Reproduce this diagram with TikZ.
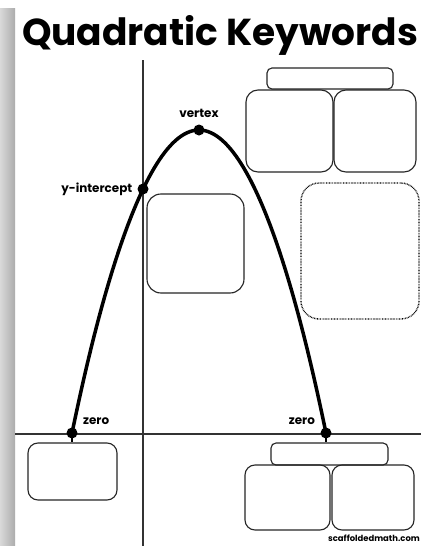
\documentclass[tikz,border=0pt]{standalone}
\usepackage{fontspec}
\setmainfont{Poppins}
\usepackage{tikz}
\usetikzlibrary{positioning}
\tikzset{
 dot/.style={circle,fill=black,inner sep=0pt,minimum size=5.5mm},
 kbox/.style={draw=black!85,line width=1.6pt,rounded corners=6mm,inner sep=0pt},
 kbar/.style={draw=black!85,line width=1.6pt,rounded corners=2.5mm,inner sep=0pt},
 lbl/.style={inner sep=0pt,font=\fontsize{17}{20}\selectfont\bfseries},
}
\begin{document}
\begin{tikzpicture}[x=.5mm,y=-.5mm]
\useasboundingbox (0,0) rectangle (421,546);
\fill[white] (0,0) rectangle (421,546);
\shade[left color=gray!30,right color=gray!65] (0,8) rectangle (15,546);
% axes
\draw[line width=1.5pt,black!80] (143,60) -- (143,546);
\draw[line width=1.5pt,black!80] (15,434) -- (421,434);
\node[anchor=base west,inner sep=0pt] (title) at (22,45) {\resizebox{198mm}{!}{\bfseries Quadratic Keywords}};
% points on the curve
\foreach \n/\x/\y in {vx/199/130,yint/143/189,zl/72/433,zr/326/433}
 \node[dot] (\n) at (\x,\y) {};
\draw[line width=5pt] (zl.center) parabola bend (vx.center) (zr.center);
\node[lbl,above=3.5mm of vx] (vxl) {vertex};
\node[lbl,left=2.5mm of yint] (yintl) {y-intercept};
\node[lbl,above right=2mm and 3.5mm of zl] (zll) {zero};
\node[lbl,above left=2mm and 3.5mm of zr] (zrl) {zero};
% boxes
\node[kbar,minimum width=63mm,minimum height=10.5mm] (tbar) at (330,78.5) {};
\node[kbox,minimum width=43.5mm,minimum height=41mm] (tl) at (289.5,131) {};
\node[kbox,minimum width=41mm,minimum height=41mm] (tr) at (375,131) {};
\node[kbox,rounded corners=7mm,minimum width=48.5mm,minimum height=49.5mm] (mid) at (195.5,243.5) {};
\node[kbox,draw=black,line width=2pt,dash pattern=on 1pt off 1.2pt,rounded corners=9mm,minimum width=59mm,minimum height=68mm] (dbox) at (360,251) {};
\node[kbox,rounded corners=5mm,minimum width=44.5mm,minimum height=28.5mm] (bl) at (72.5,471.5) {};
\node[kbar,minimum width=58.5mm,minimum height=11mm] (bbar) at (329.5,454) {};
\node[kbox,rounded corners=5mm,minimum width=42.5mm,minimum height=32.5mm] (brl) at (287.5,497.5) {};
\node[kbox,rounded corners=5mm,minimum width=41mm,minimum height=32.5mm] (brr) at (373,497.5) {};
\draw[line width=3.5pt] (zl.center) -- (zl.center |- bl.north);
\draw[line width=3.5pt] (zr.center) -- (zr.center |- bbar.north);
\node[anchor=east,inner sep=0pt,font=\fontsize{12}{14}\selectfont\bfseries] (web) at (420,538) {scaffoldedmath.com};
\end{tikzpicture}
\end{document}
